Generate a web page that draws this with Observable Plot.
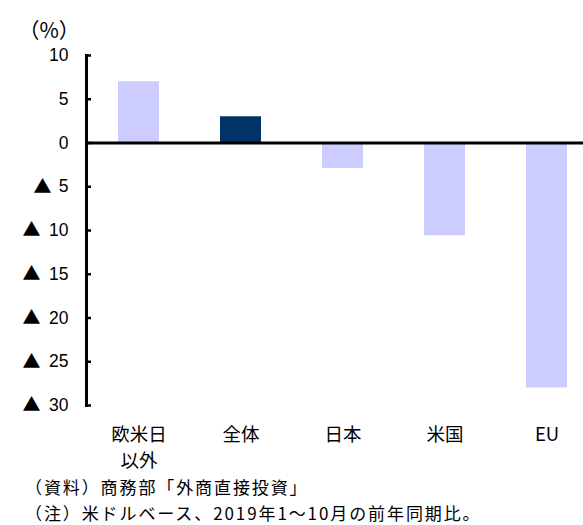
<!DOCTYPE html>
<html>
<head>
<meta charset="utf-8">
<script src="https://cdn.jsdelivr.net/npm/d3@7"></script>
<script src="https://cdn.jsdelivr.net/npm/@observablehq/plot@0.6"></script>
<style>
  html, body { margin: 0; padding: 0; background: #fff; }
  #chart { position: relative; width: 583px; height: 525px; }
  #notes {
    position: absolute; left: 25px; top: 474px; margin: 0;
    font-family: "Noto Sans CJK JP", sans-serif; font-size: 17px;
    letter-spacing: 1.9px; line-height: 25.5px; color: #000; white-space: nowrap;
  }
</style>
</head>
<body>
<div id="chart"></div>
<script>
// 対内直接投資（前年同期比、%）
const categories = ["欧米日\n以外", "全体", "日本", "米国", "EU"];
const values = [7.0, 3.0, -2.9, -10.6, -28.0];
const highlight = [false, true, false, false, false];
const yTicks = [10, 5, 0, -5, -10, -15, -20, -25, -30];
const unitLabel = "（%）";
const notes = ["（資料）商務部「外商直接投資」", "（注）米ドルベース、2019年1〜10月の前年同期比。"];

const rows = categories.map((c, i) => ({category: c, value: values[i], total: highlight[i]}));
// ▲ sits left of the magnitude, so one- and two-digit ticks need different offsets
const negShort = yTicks.filter(d => d < 0 && d > -10);
const negLong = yTicks.filter(d => d <= -10);

const cjk = "Noto Sans CJK JP, sans-serif";
const triangle = (ticks, pad) => Plot.axisY({
  ticks, tickSize: 0, tickPadding: pad, tickFormat: () => "▲", label: null,
  fontSize: 18, fontFamily: cjk, fill: "#000"
});

const chart = Plot.plot({
  width: 583,
  height: 470,
  marginLeft: 86,
  marginRight: 0,
  marginTop: 55,
  marginBottom: 65,
  style: {background: "#fff", color: "#000", overflow: "visible"},
  x: {domain: categories, range: [85, 599], paddingInner: 0.6, paddingOuter: 0.3, axis: null},
  y: {domain: [-30, 10], axis: null},
  marks: [
    Plot.barY(rows, {
      x: "category", y: "value",
      fill: d => d.total ? "#003366" : "#ccccff"
    }),
    Plot.ruleY([0], {stroke: "#000", strokeWidth: 3}),
    Plot.frame({anchor: "left", stroke: "#000", strokeWidth: 3}),
    // inward tick marks on the value axis
    Plot.axisY({ticks: yTicks, tickSize: 5, dx: 5, tickFormat: () => "", label: null, strokeWidth: 2.5, stroke: "#000"}),
    // magnitudes
    Plot.axisY({
      ticks: yTicks, tickSize: 0, tickPadding: 18, tickFormat: d => `${Math.abs(d)}`, label: null,
      fontSize: 17.5, fontFamily: "Liberation Sans, sans-serif", fill: "#000"
    }),
    triangle(negShort, 35),
    triangle(negLong, 46),
    Plot.axisX({
      tickSize: 0, tickPadding: 17, lineHeight: 1.4, label: null,
      fontSize: 18.5, fontFamily: cjk, fill: "#000"
    }),
    Plot.text([unitLabel], {
      text: d => d, frameAnchor: "top-left", textAnchor: "start",
      dx: -68, dy: -32, fontSize: 21, fontFamily: cjk, fill: "#000"
    })
  ]
});

const host = document.getElementById("chart");
host.appendChild(chart);
const box = document.createElement("div");
box.id = "notes";
notes.forEach((t, i) => {
  if (i) box.appendChild(document.createElement("br"));
  box.appendChild(document.createTextNode(t));
});
host.appendChild(box);
</script>
</body>
</html>
